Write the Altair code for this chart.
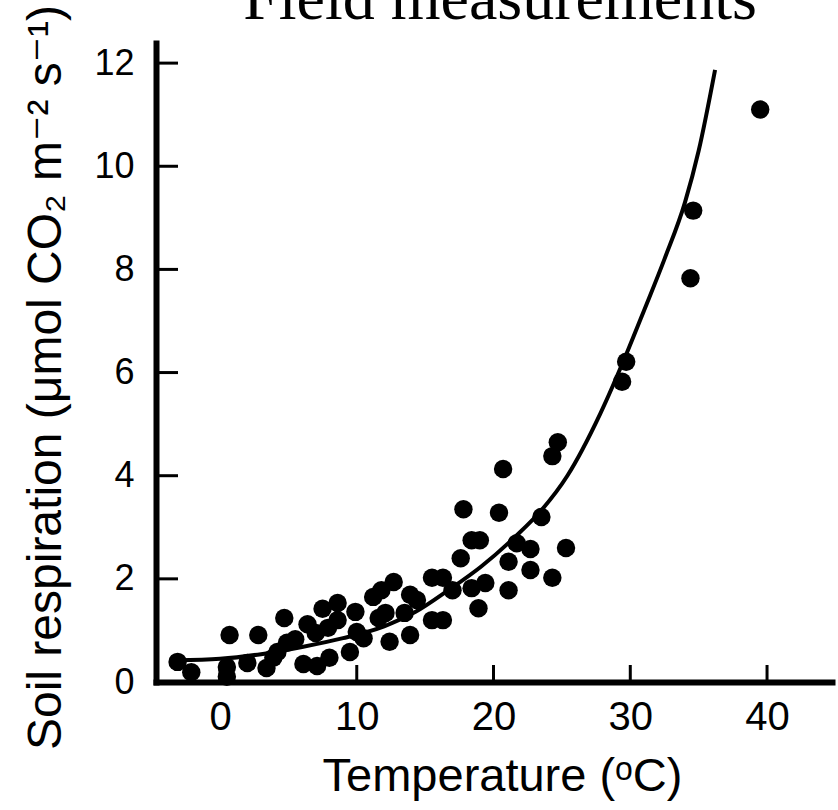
import altair as alt
import pandas as pd

# ---- data ----
temperature = [-3.1, -2.1, 0.5, 0.5, 0.7, 2.8, 2.0, 3.4, 4.7, 4.2, 4.9, 5.5, 3.9,
               6.4, 6.1, 7.0, 7.1, 7.5, 7.9, 8.0, 8.6, 8.6, 9.5, 9.9, 10.0, 10.5,
               11.2, 11.8, 12.7, 11.6, 12.1, 12.4, 13.9, 13.9, 13.5, 14.4,
               15.5, 16.3, 15.5, 16.3, 17.0, 18.4, 19.4, 21.1, 18.9, 17.6, 18.4,
               19.0, 17.8, 20.4, 23.5, 21.7, 22.7, 25.3, 21.1, 22.7, 24.3, 20.7,
               24.3, 24.7, 29.4, 29.7, 34.4, 34.6, 39.5]
respiration = [0.39, 0.19, 0.29, 0.10, 0.91, 0.91, 0.37, 0.27, 1.24, 0.58, 0.76, 0.83, 0.47,
               1.12, 0.35, 0.95, 0.31, 1.42, 1.05, 0.47, 1.53, 1.20, 0.58, 1.36, 0.97, 0.85,
               1.65, 1.78, 1.94, 1.24, 1.34, 0.78, 0.91, 1.69, 1.34, 1.59,
               2.02, 2.02, 1.20, 1.20, 1.78, 1.82, 1.92, 1.78, 1.43, 2.40, 2.75,
               2.75, 3.35, 3.28, 3.20, 2.69, 2.58, 2.60, 2.33, 2.17, 2.02, 4.13,
               4.38, 4.65, 5.82, 6.21, 7.83, 9.14, 11.10]

curve_temp = [-3.2, 0, 3, 6, 9, 12, 14.3, 16.7, 19.1, 21.6, 23.5, 25.4, 27.8, 29.7,
              31.0, 32.5, 34.0, 35.0, 36.2]
curve_resp = [0.42, 0.45, 0.54, 0.68, 0.85, 1.08, 1.36, 1.78, 2.24, 2.82, 3.33, 4.0, 5.2, 6.35,
              7.2, 8.2, 9.3, 10.3, 11.87]

x_ticks = [0, 10, 20, 30, 40]
y_ticks = [0, 2, 4, 6, 8, 10, 12]
chart_title = ["Field measurements"]
x_title = "Temperature (ᵒC)"
y_title = "Soil respiration (μmol CO₂ m⁻² s⁻¹)"

# ---- layout ----
W, H = 676, 639
SANS = "Liberation Sans, Arial, DejaVu Sans"

xscale = alt.Scale(domain=[-4.68, 44.75], nice=False, zero=False)
yscale = alt.Scale(domain=[0, 12.39], nice=False, zero=False)

xaxis = alt.Axis(values=x_ticks, ticks=False, tickSize=0, grid=False,
                 labelPadding=15, labelFontSize=40, labelFont=SANS, labelColor="black",
                 domainColor="black", domainWidth=6, domainCap="square",
                 title=x_title, titleFont=SANS, titleFontSize=47, titleFontWeight="normal",
                 titleColor="black", titleX=346, titleY=108, titleAlign="center",
                 titleBaseline="alphabetic")
yaxis = alt.Axis(values=y_ticks, ticks=False, tickSize=0, grid=False,
                 labelPadding=22, labelFontSize=36, labelFont=SANS, labelColor="black",
                 domainColor="black", domainWidth=6, domainCap="square",
                 title=y_title, titleFont=SANS, titleFontSize=48, titleFontWeight="normal",
                 titleColor="black", titleX=-96, titleY=334, titleAngle=270,
                 titleAlign="center", titleBaseline="alphabetic")

X = lambda: alt.X("t:Q", scale=xscale, axis=xaxis)
Y = lambda: alt.Y("r:Q", scale=yscale, axis=yaxis)

pts = pd.DataFrame({"t": temperature, "r": respiration})
cur = pd.DataFrame({"t": curve_temp, "r": curve_resp})

points = alt.Chart(pts).mark_circle(size=340, color="black", opacity=1).encode(x=X(), y=Y())
line = alt.Chart(cur).mark_line(color="black", strokeWidth=4, interpolate="monotone").encode(x=X(), y=Y())

yt = alt.Chart(pd.DataFrame({"r": y_ticks})).mark_rule(color="black", strokeWidth=3).encode(
    y=Y(), x=alt.value(0), x2=alt.value(22))
xt = alt.Chart(pd.DataFrame({"t": x_ticks})).mark_rule(color="black", strokeWidth=3).encode(
    x=X(), y=alt.value(H), y2=alt.value(H - 17))

title = alt.Chart(pd.DataFrame({"label": chart_title})).mark_text(
    font="Liberation Serif, Times New Roman, serif", fontSize=64, align="center",
    baseline="alphabetic", color="black").encode(
    x=alt.value(344), y=alt.value(-24), text="label:N")

chart = alt.layer(yt, xt, line, points, title).properties(
    width=W, height=H,
    autosize=alt.AutoSizeParams(type="none"),
    padding={"left": 156, "top": 43, "right": 6, "bottom": 128},
    background="white",
).configure_view(stroke=None)

chart.save("out.html", embed_options={"renderer": "svg", "actions": False})
